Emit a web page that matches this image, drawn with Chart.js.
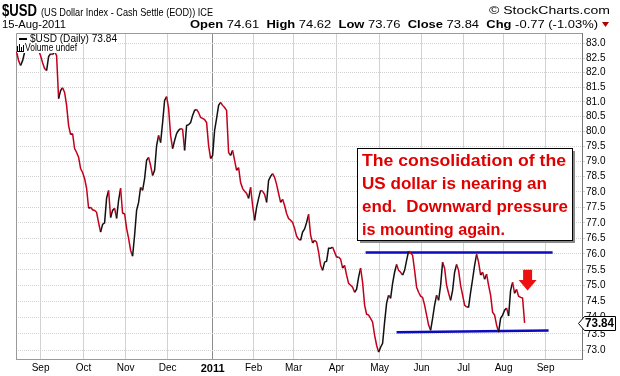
<!DOCTYPE html>
<html>
<head>
<meta charset="utf-8">
<script src="https://cdn.jsdelivr.net/npm/chart.js@4.4.1/dist/chart.umd.min.js"></script>
<style>
  html, body { margin: 0; padding: 0; background: #fff; }
  #usdChart { display: block; }
</style>
</head>
<body>
<canvas id="usdChart" width="620" height="376"></canvas>
<script>
// daily closes of $USD, one per trading day, 16-Aug-2010 .. 15-Aug-2011
const usdClose = [
  82.72, 82.41, 82.24, 82.41, 82.70, 82.86, 83.00, 83.10, 83.05, 83.12,
  82.97, 82.76, 82.58, 82.34, 82.14, 82.07, 82.55, 82.65, 82.62, 82.72,
  82.58, 81.11, 81.38, 81.48, 81.32, 80.88, 80.20, 79.90, 79.93, 79.43,
  79.30, 79.14, 78.77, 78.64, 78.44, 78.12, 77.47, 77.50, 77.42, 77.40,
  77.34, 77.00, 76.70, 76.95, 77.00, 77.80, 78.05, 77.17, 77.40, 77.47,
  77.14, 77.73, 78.12, 77.30, 77.30, 76.82, 76.50, 76.12, 75.93, 76.60,
  77.40, 77.66, 78.15, 78.05, 78.44, 79.04, 79.14, 78.87, 78.54, 78.71,
  79.53, 79.87, 79.63, 80.30, 81.05, 81.18, 80.78, 79.87, 79.43, 79.70,
  79.93, 80.04, 80.10, 80.07, 79.37, 80.20, 80.23, 80.30, 80.54, 80.71,
  80.74, 80.64, 80.47, 80.44, 80.40, 80.30, 79.53, 79.10, 79.20, 80.04,
  80.44, 80.88, 80.98, 80.88, 80.81, 80.71, 79.30, 79.20, 79.37, 79.04,
  78.71, 78.80, 78.31, 78.12, 78.02, 77.95, 77.79, 78.15, 77.56, 77.08,
  77.50, 77.79, 78.05, 78.02, 77.92, 77.66, 78.38, 78.51, 78.60, 78.48,
  78.25, 77.95, 77.66, 77.76, 77.56, 77.30, 77.14, 77.08, 77.01, 76.82,
  76.57, 76.47, 76.44, 76.70, 76.80, 77.01, 77.27, 76.60, 76.35, 76.44,
  76.38, 76.06, 75.64, 75.48, 75.74, 75.77, 76.18, 76.18, 76.22, 76.06,
  75.90, 75.90, 75.84, 75.55, 75.64, 75.33, 75.07, 75.01, 74.95, 74.79,
  74.89, 75.27, 75.55, 75.10, 74.39, 74.11, 74.08, 73.98, 73.86, 73.46,
  73.15, 72.94, 73.09, 73.21, 73.86, 74.45, 74.70, 74.60, 75.07, 75.42,
  75.67, 75.48, 75.42, 75.33, 75.48, 75.80, 76.09, 76.03, 75.96, 75.48,
  74.95, 74.79, 74.67, 74.63, 74.39, 74.08, 73.77, 73.61, 73.98, 74.39,
  74.70, 74.54, 75.01, 75.74, 75.55, 75.01, 74.76, 74.54, 74.85, 75.42,
  75.67, 75.48, 75.01, 74.70, 74.39, 74.33, 74.33, 74.79, 75.20, 75.64,
  75.99, 75.74, 75.33, 75.42, 75.20, 75.36, 75.01, 74.70, 74.17, 74.08,
  73.77, 73.55, 73.98, 74.08, 74.23, 74.30, 74.05, 74.85, 75.10, 74.76,
  74.88, 74.67, 74.63, 74.61, 73.84
];

// month starts, as trading-day index, and their labels
const monthTicks  = [12, 33.5, 54.5, 75.5, 98, 118.5, 138.5, 160, 181.5, 202.5, 223.5, 243.5, 264.5];
const monthLabels = ['Sep', 'Oct', 'Nov', 'Dec', '2011', 'Feb', 'Mar', 'Apr', 'May', 'Jun', 'Jul', 'Aug', 'Sep'];
const yearTick = 98;

const priceTicks = [73.0, 73.5, 74.0, 74.5, 75.0, 75.5, 76.0, 76.5, 77.0, 77.5, 78.0,
                    78.5, 79.0, 79.5, 80.0, 80.5, 81.0, 81.5, 82.0, 82.5, 83.0];

// hand drawn range lines (trading-day index, price)
const upperLineX = [174.5, 268];
const upperLineY = [76.05, 76.05];
const lowerLineX = [190, 266];
const lowerLineY = [73.55, 73.60];

// red arrow: day index, top and tip price
const arrowDay = 255.5;
const arrowTop = 75.50;
const arrowTip = 74.85;

const noteLines = ['The consolidation of the', 'US dollar is nearing an', 'end.  Downward pressure', 'is mounting again.'];
const noteWidths = [204, 185, 206, 143];

const RED = '#c4001c';
const BLACK = '#111';
const BLUE = '#0c0cbe';
const FONT = '"Liberation Sans", Arial, sans-serif';

const pricePoints = usdClose.map((v, i) => ({ x: i, y: v }));
const lastClose = usdClose[usdClose.length - 1];

function fitText(ctx, text, x, y, w) {
  const m = ctx.measureText(text).width;
  ctx.save();
  ctx.translate(x, y);
  ctx.scale(w / m, 1);
  ctx.fillText(text, 0, 0);
  ctx.restore();
}

const decor = {
  id: 'decor',
  beforeDatasetsDraw(chart) {
    const { ctx, chartArea: a } = chart;
    ctx.save();
    ctx.strokeStyle = '#9a9a9a';
    ctx.lineWidth = 1;
    ctx.beginPath();
    ctx.moveTo(a.left + 0.5, a.bottom);
    ctx.lineTo(a.left + 0.5, a.top + 0.5);
    ctx.lineTo(a.right, a.top + 0.5);
    ctx.stroke();
    ctx.restore();
  },
  afterDatasetsDraw(chart) {
    const { ctx, scales: { x, y } } = chart;
    ctx.save();

    // legend in the top-left corner
    ctx.fillStyle = '#fff';
    ctx.fillRect(17, 34, 101, 10);
    ctx.fillRect(17, 44, 62, 9);
    ctx.fillStyle = '#000';
    ctx.fillRect(19, 38, 8, 2);
    ctx.font = '11px ' + FONT;
    ctx.textBaseline = 'middle';
    fitText(ctx, '$USD (Daily) 73.84', 30, 39, 87);
    // little volume icon
    ctx.fillRect(17, 46, 1, 6);
    ctx.fillRect(19, 44, 1, 8);
    ctx.fillRect(21, 47, 1, 5);
    ctx.fillRect(23, 45, 1, 7);
    ctx.fillRect(17, 51, 7, 1);
    ctx.font = '10px ' + FONT;
    fitText(ctx, 'Volume undef', 25, 48.5, 52);

    // comment box
    const bx = 357, by = 148, bw = 215, bh = 92;
    ctx.fillStyle = '#8a8a8a';
    ctx.fillRect(bx + 3, by + 3, bw, bh);
    ctx.fillStyle = '#fff';
    ctx.fillRect(bx, by, bw, bh);
    ctx.strokeStyle = '#000';
    ctx.lineWidth = 1;
    ctx.strokeRect(bx + 0.5, by + 0.5, bw, bh);
    ctx.fillStyle = '#e00000';
    ctx.font = 'bold 17px ' + FONT;
    ctx.textBaseline = 'alphabetic';
    noteLines.forEach((t, i) => fitText(ctx, t, bx + 5, by + 18 + i * 23, noteWidths[i]));

    // red down arrow
    const ax = x.getPixelForValue(arrowDay);
    const at = y.getPixelForValue(arrowTop);
    const ab = y.getPixelForValue(arrowTip);
    const neck = at + (ab - at) * 0.5;
    ctx.fillStyle = '#ee1010';
    ctx.beginPath();
    ctx.moveTo(ax - 4.5, at);
    ctx.lineTo(ax + 4.5, at);
    ctx.lineTo(ax + 4.5, neck);
    ctx.lineTo(ax + 9, neck);
    ctx.lineTo(ax, ab);
    ctx.lineTo(ax - 9, neck);
    ctx.lineTo(ax - 4.5, neck);
    ctx.closePath();
    ctx.fill();
    ctx.restore();
  },
  afterDraw(chart) {
    const { ctx, scales: { y } } = chart;
    ctx.save();
    ctx.fillStyle = '#000';
    ctx.textBaseline = 'alphabetic';

    ctx.font = 'bold 16px ' + FONT;
    fitText(ctx, '$USD', 2, 16, 35);
    ctx.font = '11px ' + FONT;
    fitText(ctx, '(US Dollar Index - Cash Settle (EOD)) ICE', 41, 16, 172);
    fitText(ctx, '15-Aug-2011', 2, 28, 64);
    fitText(ctx, '\u00a9 StockCharts.com', 489, 14, 121);

    // open / high / low / close line
    const parts = [
      ['Open', true], [' 74.61  ', false], ['High', true], [' 74.62  ', false],
      ['Low', true], [' 73.76  ', false], ['Close', true], [' 73.84  ', false],
      ['Chg', true], [' -0.77 (-1.03%)', false]
    ];
    let total = 0;
    parts.forEach(p => {
      ctx.font = (p[1] ? 'bold ' : '') + '11px ' + FONT;
      total += ctx.measureText(p[0]).width;
    });
    const k = (598 - 190) / total;
    let px = 190;
    parts.forEach(p => {
      ctx.font = (p[1] ? 'bold ' : '') + '11px ' + FONT;
      const w = ctx.measureText(p[0]).width * k;
      fitText(ctx, p[0], px, 28, w);
      px += w;
    });
    ctx.fillStyle = '#b00000';
    ctx.beginPath();
    ctx.moveTo(602, 22);
    ctx.lineTo(609, 22);
    ctx.lineTo(605.5, 27);
    ctx.closePath();
    ctx.fill();

    // last price tag on the axis
    const ty = Math.round(y.getPixelForValue(lastClose)) + 0.5;
    ctx.fillStyle = '#fff';
    ctx.strokeStyle = '#000';
    ctx.lineWidth = 1;
    ctx.beginPath();
    ctx.moveTo(578.5, ty);
    ctx.lineTo(584.5, ty - 7);
    ctx.lineTo(615.5, ty - 7);
    ctx.lineTo(615.5, ty + 7);
    ctx.lineTo(584.5, ty + 7);
    ctx.closePath();
    ctx.fill();
    ctx.stroke();
    ctx.fillStyle = '#000';
    ctx.font = 'bold 12px ' + FONT;
    ctx.textBaseline = 'middle';
    fitText(ctx, lastClose.toFixed(2), 585, ty + 0.5, 29);
    ctx.restore();
  }
};

new Chart(document.getElementById('usdChart'), {
  type: 'line',
  data: {
    datasets: [
      {
        data: pricePoints,
        borderWidth: 1.5,
        pointRadius: 0,
        tension: 0,
        borderColor: BLACK,
        segment: {
          borderColor: c => (c.p1.parsed.y < c.p0.parsed.y ? RED : BLACK)
        }
      },
      {
        data: upperLineX.map((v, i) => ({ x: v, y: upperLineY[i] })),
        borderColor: BLUE,
        borderWidth: 2.5,
        pointRadius: 0
      },
      {
        data: lowerLineX.map((v, i) => ({ x: v, y: lowerLineY[i] })),
        borderColor: BLUE,
        borderWidth: 2.5,
        pointRadius: 0
      }
    ]
  },
  options: {
    responsive: false,
    animation: false,
    devicePixelRatio: 1,
    layout: { padding: { left: 16, top: 33, right: 0, bottom: 0 } },
    plugins: { legend: { display: false }, tooltip: { enabled: false } },
    scales: {
      x: {
        type: 'linear',
        min: -0.3,
        max: 282.7,
        afterBuildTicks: s => { s.ticks = monthTicks.map(v => ({ value: v })); },
        afterFit: s => { s.height = 17; },
        border: { display: true, color: '#9a9a9a' },
        grid: {
          drawTicks: false,
          color: c => (c.tick && c.tick.value === yearTick ? '#8c8c8c' : '#d2d2d2')
        },
        ticks: {
          autoSkip: false,
          maxRotation: 0,
          padding: 3,
          color: '#000',
          callback: (v, i) => monthLabels[i],
          font: c => ({
            family: FONT,
            size: c.tick && c.tick.value === yearTick ? 11 : 10,
            weight: c.tick && c.tick.value === yearTick ? 'bold' : 'normal'
          })
        }
      },
      y: {
        type: 'logarithmic',
        position: 'right',
        min: 72.73,
        max: 83.37,
        afterBuildTicks: s => { s.ticks = priceTicks.map(v => ({ value: v })); },
        afterFit: s => { s.width = 38; },
        border: { display: true, color: '#777', dash: [1, 1] },
        grid: { color: '#d2d2d2', tickLength: 3 },
        ticks: {
          padding: 1,
          color: '#000',
          font: { family: FONT, size: 10 },
          callback: v => Number(v).toFixed(1)
        }
      }
    }
  },
  plugins: [decor]
});
</script>
</body>
</html>
